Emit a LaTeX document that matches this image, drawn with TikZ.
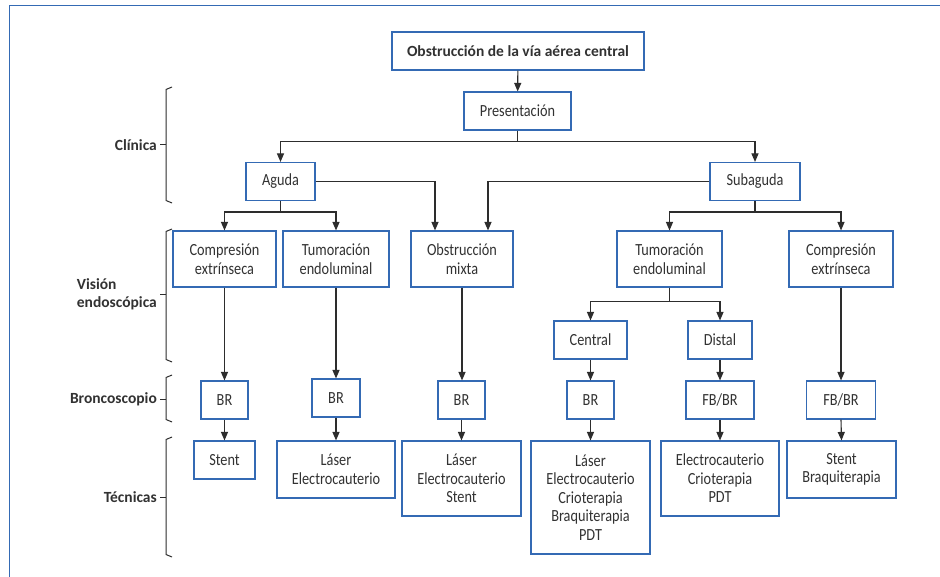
\documentclass[tikz,border=0pt]{standalone}
\usepackage{fontspec}
\setmainfont{Carlito}
\newfontfamily\bodyfont[FakeStretch=0.84]{Carlito}
\usetikzlibrary{arrows.meta}
\definecolor{boxblue}{RGB}{52,106,180}
\definecolor{linegray}{RGB}{45,45,45}
\definecolor{txtgray}{RGB}{50,50,50}
\tikzset{
  bx/.style={draw=boxblue, line width=1.1pt, fill=white, align=center, inner sep=0pt,
    text=txtgray, font=\bodyfont\fontsize{17}{18.5}\selectfont},
  arr/.style={draw=linegray, line width=1.1pt, -{Triangle[length=8.5pt,width=7pt]}},
  brc/.style={draw=linegray, line width=1pt},
  lbl/.style={anchor=east, text=txtgray, font=\bfseries\fontsize{15.5}{18}\selectfont, inner sep=0pt, align=left}
}
\begin{document}
\begin{tikzpicture}[x=1pt,y=-1pt]
\useasboundingbox (0,0) rectangle (940,577);
\fill[white] (0,0) rectangle (940,577);
% frame
\draw[boxblue, line width=1pt] (9,577) -- (9,5.5) -- (940,5.5);

% nodes
\node[bx, minimum width=252pt, minimum height=38pt, font=\bfseries\fontsize{15.5}{18}\selectfont] (title) at (518,51) {Obstrucción de la vía aérea central};
\node[bx, minimum width=107pt, minimum height=38pt] (pres) at (517.5,111) {Presentación};
\node[bx, minimum width=69pt, minimum height=38pt] (aguda) at (280.5,181.5) {Aguda};
\node[bx, minimum width=90pt, minimum height=38pt] (subag) at (755,181.5) {Subaguda};

\node[bx, minimum width=103pt, minimum height=56pt] (comp1) at (224.5,259) {Compresión\\extrínseca};
\node[bx, minimum width=106pt, minimum height=56pt] (tum1) at (336,259) {Tumoración\\endoluminal};
\node[bx, minimum width=102pt, minimum height=56pt] (mixta) at (462,259) {Obstrucción\\mixta};
\node[bx, minimum width=105pt, minimum height=56pt] (tum2) at (669.5,259) {Tumoración\\endoluminal};
\node[bx, minimum width=104pt, minimum height=56pt] (comp2) at (841,259) {Compresión\\extrínseca};

\node[bx, minimum width=73pt, minimum height=38pt] (central) at (590.5,340) {Central};
\node[bx, minimum width=64pt, minimum height=38pt] (distal) at (720,340) {Distal};

\node[bx, minimum width=47pt, minimum height=38pt] (br1) at (224.5,400) {BR};
\node[bx, minimum width=48pt, minimum height=38pt] (br2) at (336,398) {BR};
\node[bx, minimum width=47pt, minimum height=38pt] (br3) at (461.5,400) {BR};
\node[bx, minimum width=47pt, minimum height=38pt] (br4) at (590.5,400) {BR};
\node[bx, minimum width=68pt, minimum height=38pt] (fb1) at (720,400) {FB/BR};
\node[bx, minimum width=69pt, minimum height=38pt] (fb2) at (841,400) {FB/BR};

\node[bx, minimum width=61pt, minimum height=38pt] (t1) at (224.5,460) {Stent};
\node[bx, minimum width=118pt, minimum height=57pt] (t2) at (336,469.5) {Láser\\Electrocauterio};
\node[bx, minimum width=119pt, minimum height=75pt] (t3) at (461.5,478.5) {Láser\\Electrocauterio\\Stent};
\node[bx, minimum width=119pt, minimum height=113pt] (t4) at (590.5,497.5) {Láser\\Electrocauterio\\Crioterapia\\Braquiterapia\\PDT};
\node[bx, minimum width=118pt, minimum height=75pt] (t5) at (720,478.5) {Electrocauterio\\Crioterapia\\PDT};
\node[bx, minimum width=109pt, minimum height=57pt] (t6) at (841.5,469.5) {Stent\\Braquiterapia};

% connectors
\draw[arr] (title) -- (pres);
\draw[arr] (pres.south) -- ++(0,11) -| (aguda.north);
\draw[arr] (pres.south) -- ++(0,11) -| (subag.north);
\draw[arr] (aguda.east) -| ([xshift=-27pt]mixta.north);
\draw[arr] (subag.west) -| ([xshift=26pt]mixta.north);
\draw[arr] (aguda.south) -- ++(0,11) -| (comp1.north);
\draw[arr] (aguda.south) -- ++(0,11) -| (tum1.north);
\draw[arr] (subag.south) -- ++(0,11) -| (tum2.north);
\draw[arr] (subag.south) -- ++(0,11) -| (comp2.north);
\draw[arr] (tum2.south) -- ++(0,14) -| (central.north);
\draw[arr] (tum2.south) -- ++(0,14) -| (distal.north);
\draw[arr] (comp1.south) -- (br1.north);
\draw[arr] (tum1.south) -- (br2.north);
\draw[arr] (mixta.south) -- ([xshift=0.5pt]br3.north);
\draw[arr] (comp2.south) -- (fb2.north);
\draw[arr] (central.south) -- (br4.north);
\draw[arr] (distal.south) -- (fb1.north);
\draw[arr] (br1.south) -- (t1.north);
\draw[arr] (br2.south) -- (t2.north);
\draw[arr] (br3.south) -- (t3.north);
\draw[arr] (br4.south) -- (t4.north);
\draw[arr] (fb1.south) -- (t5.north);
\draw[arr] (fb2.south) -- (t6.north);

% braces and labels
\draw[brc] (172,87) -- (166,89.5) -- (166,200.5) -- (172,203);
\draw[brc] (160,145) -- (166,145);
\node[lbl] (lclin) at (157,145) {Clínica};

\draw[brc] (172,229) -- (166,231.5) -- (166,359.5) -- (172,362);
\draw[brc] (160,295) -- (166,295);
\node[lbl] (lvis) at (157,294) {Visión\\endoscópica};

\draw[brc] (172,375) -- (166,377.5) -- (166,419.5) -- (172,422);
\draw[brc] (160,399) -- (166,399);
\node[lbl] (lbron) at (157,399) {Broncoscopio};

\draw[brc] (172,437) -- (166,439.5) -- (166,554.5) -- (172,557);
\draw[brc] (160,497) -- (166,497);
\node[lbl] (ltec) at (157,497) {Técnicas};
\end{tikzpicture}
\end{document}
